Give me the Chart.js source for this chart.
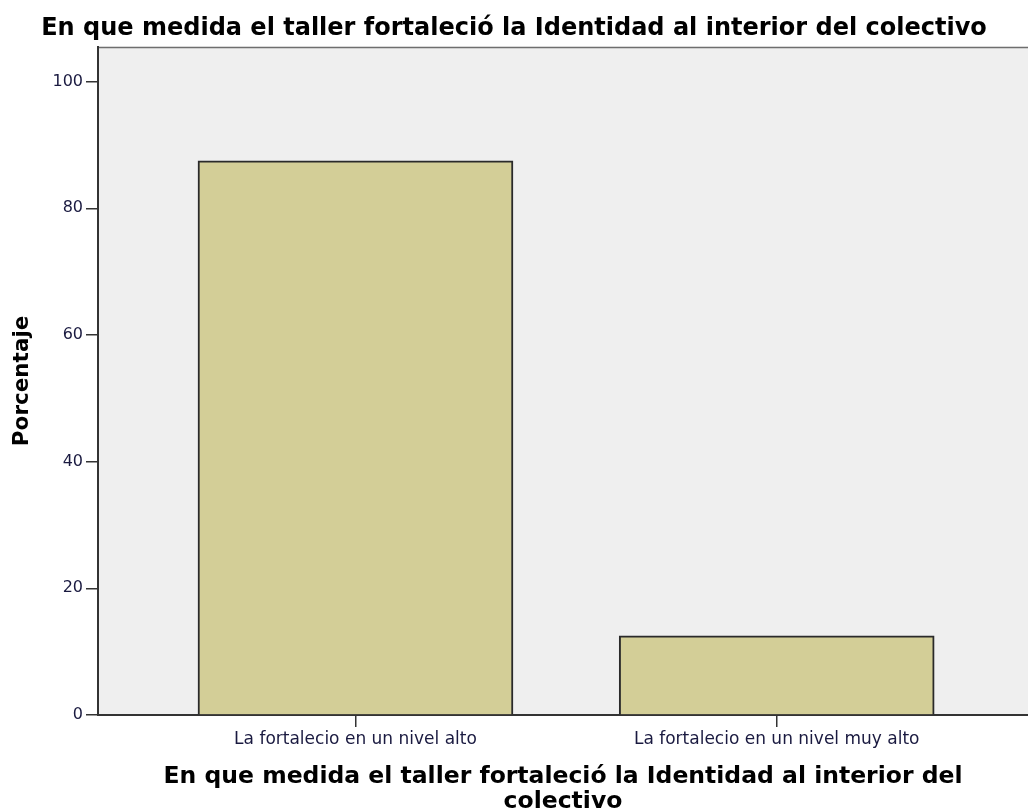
<!DOCTYPE html>
<html>
<head>
<meta charset="utf-8">
<script src="https://cdn.jsdelivr.net/npm/chart.js@4/dist/chart.umd.min.js"></script>
<style>
  html, body { margin: 0; padding: 0; background: #ffffff; }
  #wrap { width: 1028px; height: 811px; }
</style>
</head>
<body>
<div id="wrap"><canvas id="c" width="1028" height="811"></canvas></div>
<script>
const chartTitle = "En que medida el taller fortaleció la Identidad al interior del colectivo";
const xAxisTitle = ["En que medida el taller fortaleció la Identidad al interior del", "colectivo"];
const yAxisTitle = "Porcentaje";
const categories = ["La fortalecio en un nivel alto", "La fortalecio en un nivel muy alto"];
const categoryPositions = [1, 2];
const percentages = [87.5, 12.5];
const yTicks = [0, 20, 40, 60, 80, 100];

const plotBg = {
  id: 'plotBg',
  beforeDraw(chart) {
    const a = chart.chartArea, ctx = chart.ctx;
    ctx.save();
    ctx.fillStyle = '#efefef';
    ctx.fillRect(a.left, a.top, a.right - a.left, a.bottom - a.top);
    ctx.strokeStyle = '#6e6e6e';
    ctx.lineWidth = 1.5;
    ctx.beginPath();
    ctx.moveTo(a.left, a.top + 0.75);
    ctx.lineTo(a.right, a.top + 0.75);
    ctx.stroke();
    ctx.restore();
  }
};

new Chart(document.getElementById('c'), {
  type: 'bar',
  data: {
    datasets: [{
      data: categoryPositions.map((x, i) => ({ x: x, y: percentages[i] })),
      backgroundColor: '#d3ce97',
      borderColor: '#2a2a2a',
      borderWidth: 2,
      barThickness: 315
    }]
  },
  plugins: [plotBg],
  options: {
    responsive: false,
    animation: false,
    layout: { padding: { left: 0, right: 0, top: 0, bottom: 0 } },
    plugins: {
      legend: { display: false },
      tooltip: { enabled: false },
      title: {
        display: true,
        text: chartTitle,
        color: '#000000',
        font: { family: 'DejaVu Sans', size: 24, weight: 'bold', lineHeight: 1.2 },
        padding: { top: 14, bottom: 4 }
      }
    },
    scales: {
      x: {
        type: 'linear',
        offset: false,
        min: 0.3887,
        max: 2.5966,
        afterBuildTicks(scale) { scale.ticks = categoryPositions.map(v => ({ value: v })); },
        afterFit(scale) { scale.height = 96; },
        ticks: {
          autoSkip: false,
          maxRotation: 0,
          padding: 2,
          color: '#1a1a40',
          font: { family: 'DejaVu Sans', size: 17 },
          callback(value) {
            const i = categoryPositions.indexOf(value);
            return i >= 0 ? categories[i] : '';
          }
        },
        grid: { offset: false, drawOnChartArea: false, drawTicks: true, tickLength: 12, color: '#333333', lineWidth: 1.5 },
        border: { display: true, color: '#333333', width: 2 },
        title: {
          display: true,
          text: xAxisTitle,
          color: '#000000',
          font: { family: 'DejaVu Sans', size: 23.5, weight: 'bold', lineHeight: 1.05 },
          padding: { top: 0, bottom: -3 }
        }
      },
      y: {
        min: 0,
        max: 105.5,
        afterBuildTicks(scale) { scale.ticks = yTicks.map(v => ({ value: v })); },
        afterFit(scale) { scale.width = 98; },
        ticks: {
          padding: 3,
          color: '#1a1a40',
          font: { family: 'DejaVu Sans', size: 16 }
        },
        grid: { drawOnChartArea: false, drawTicks: true, tickLength: 12, color: '#333333', lineWidth: 1.5 },
        border: { display: true, color: '#333333', width: 2 },
        title: {
          display: true,
          text: yAxisTitle,
          color: '#000000',
          font: { family: 'DejaVu Sans', size: 21.5, weight: 'bold', lineHeight: 1.2 },
          padding: { top: 10, bottom: 0 }
        }
      }
    }
  }
});
</script>
</body>
</html>
